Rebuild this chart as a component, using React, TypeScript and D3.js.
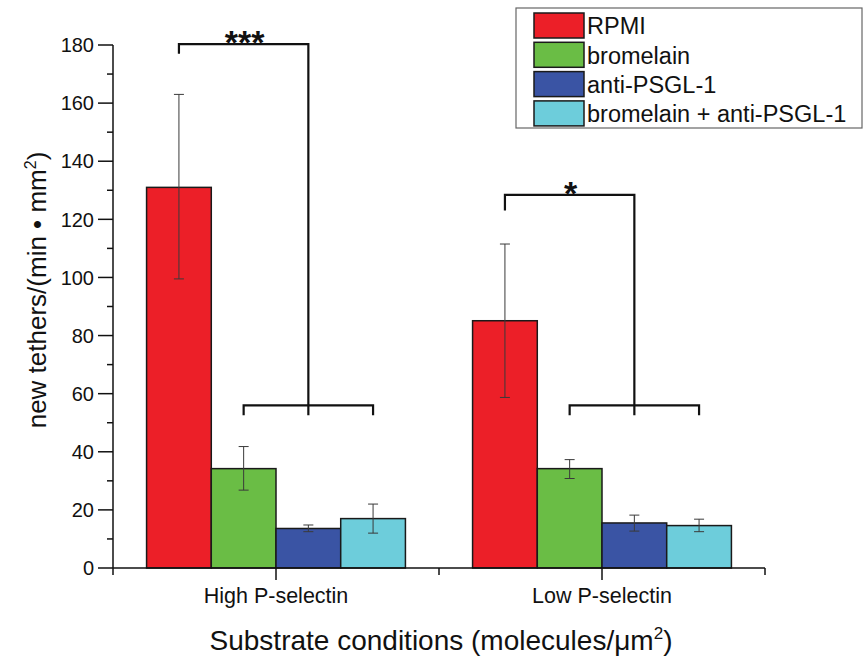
import React from "react";
import * as d3 from "d3";

const groups = ["High P-selectin", "Low P-selectin"];
const seriesNames = ["RPMI", "bromelain", "anti-PSGL-1", "bromelain + anti-PSGL-1"];
const seriesColors = ["#ec1f28", "#6abd45", "#3a54a4", "#6dcddb"];
// values[series][group]
const means = [
  [131, 85.1],
  [34.2, 34.2],
  [13.6, 15.5],
  [17, 14.6],
];
const errLow = [
  [99.5, 58.7],
  [26.8, 30.8],
  [12.5, 12.7],
  [12, 12.5],
];
const errHigh = [
  [163, 111.5],
  [41.8, 37.3],
  [14.8, 18.2],
  [22, 16.8],
];
const yTicks = [0, 20, 40, 60, 80, 100, 120, 140, 160, 180];
const yMinor = [10, 30, 50, 70, 90, 110, 130, 150, 170];

const W = 864;
const H = 657;
const font = "'Liberation Sans', Arial, sans-serif";

export default function App() {
  const y = d3.scaleLinear().domain([0, 180]).range([568, 45]);
  const x = d3.scaleLinear().domain([0, 4]).range([113, 765]);
  const groupPos = [1, 3];
  const bw = x(0.397) - x(0);
  const barCenter = (s: number, g: number) => x(groupPos[g]) + (s - 1.5) * bw;

  // significance brackets
  const brackets = [
    { g: 0, top: 180.3, drop: 177, low: 56, label: "***" },
    { g: 1, top: 128.4, drop: 123, low: 56, label: "*" },
  ];

  return (
    <div style={{ position: "absolute", left: 0, top: 0 }}>
      <svg width={W} height={H} style={{ display: "block", background: "#fff" }}>
        {/* bars */}
        {seriesNames.map((name, s) =>
          groups.map((gname, g) => (
            <rect
              key={name + gname}
              x={barCenter(s, g) - bw / 2}
              y={y(means[s][g])}
              width={bw}
              height={y(0) - y(means[s][g])}
              fill={seriesColors[s]}
              stroke="#1a1a1a"
              strokeWidth={1.5}
            />
          ))
        )}
        {/* error bars */}
        {seriesNames.map((name, s) =>
          groups.map((gname, g) => {
            const cx = barCenter(s, g);
            return (
              <g key={"e" + name + gname} stroke="#3a3a3a" strokeWidth={1}>
                <line x1={cx} x2={cx} y1={y(errHigh[s][g])} y2={y(errLow[s][g])} />
                <line x1={cx - 5} x2={cx + 5} y1={y(errHigh[s][g])} y2={y(errHigh[s][g])} />
                <line x1={cx - 5} x2={cx + 5} y1={y(errLow[s][g])} y2={y(errLow[s][g])} />
              </g>
            );
          })
        )}
        {/* brackets */}
        {brackets.map((b) => {
          const xl = barCenter(0, b.g);
          const xs = barCenter(2, b.g);
          const l1 = barCenter(1, b.g);
          const l2 = barCenter(3, b.g);
          return (
            <g key={b.label} fill="none" stroke="#111" strokeWidth={2.2}>
              <path d={`M${xl},${y(b.drop)}V${y(b.top)}H${xs}V${y(b.low) + 10}`} />
              <path d={`M${l1},${y(b.low) + 10}V${y(b.low)}H${l2}V${y(b.low) + 10}`} />
              <text
                x={(xl + xs) / 2 + 1}
                y={y(b.top) + 10}
                textAnchor="middle"
                fontFamily={font}
                fontSize={34}
                fontWeight="bold"
                fill="#111"
                stroke="none"
              >
                {b.label}
              </text>
            </g>
          );
        })}
        {/* y axis */}
        <g stroke="#111" strokeWidth={1.5}>
          <line x1={x(0)} x2={x(0)} y1={y(0)} y2={y(180)} />
          {yTicks.map((t) => (
            <line key={"t" + t} x1={x(0) - 15} x2={x(0)} y1={y(t)} y2={y(t)} />
          ))}
          {yMinor.map((t) => (
            <line key={"m" + t} x1={x(0) - 6} x2={x(0)} y1={y(t)} y2={y(t)} />
          ))}
        </g>
        {yTicks.map((t) => (
          <text
            key={"l" + t}
            x={x(0) - 19}
            y={y(t)}
            dy="0.36em"
            textAnchor="end"
            fontFamily={font}
            fontSize={20}
            fill="#111"
          >
            {t}
          </text>
        ))}
        {/* x axis */}
        <g stroke="#111" strokeWidth={1.5}>
          <line x1={x(0)} x2={x(4)} y1={y(0)} y2={y(0)} />
          {[0, 2, 4].map((t) => (
            <line key={"xm" + t} x1={x(t)} x2={x(t)} y1={y(0)} y2={y(0) + 7} />
          ))}
          {groupPos.map((t) => (
            <line key={"xt" + t} x1={x(t)} x2={x(t)} y1={y(0)} y2={y(0) + 12} />
          ))}
        </g>
        {groups.map((gname, g) => (
          <text
            key={gname}
            x={x(groupPos[g])}
            y={603}
            textAnchor="middle"
            fontFamily={font}
            fontSize={21.5}
            fill="#111"
          >
            {gname}
          </text>
        ))}
        <text x={441} y={650} textAnchor="middle" fontFamily={font} fontSize={28} fill="#111">
          Substrate conditions (molecules/μm
          <tspan dy={-11} fontSize={17}>2</tspan>
          <tspan dy={11}>)</tspan>
        </text>
        <text
          transform="translate(46,290) rotate(-90)"
          textAnchor="middle"
          fontFamily={font}
          fontSize={26}
          fill="#111"
        >
          new tethers/(min • mm
          <tspan dy={-10} fontSize={16}>2</tspan>
          <tspan dy={10}>)</tspan>
        </text>
        {/* legend */}
        <rect x={516} y={8} width={346} height={120} fill="#fff" stroke="#666" strokeWidth={1.2} />
        {seriesNames.map((name, s) => (
          <g key={"lg" + name}>
            <rect
              x={534}
              y={13 + s * 29.3}
              width={50}
              height={25}
              fill={seriesColors[s]}
              stroke="#1a1a1a"
              strokeWidth={1.5}
            />
            <text x={587} y={26 + s * 29.3} dy="0.36em" fontFamily={font} fontSize={23.5} fill="#111">
              {name}
            </text>
          </g>
        ))}
      </svg>
    </div>
  );
}
